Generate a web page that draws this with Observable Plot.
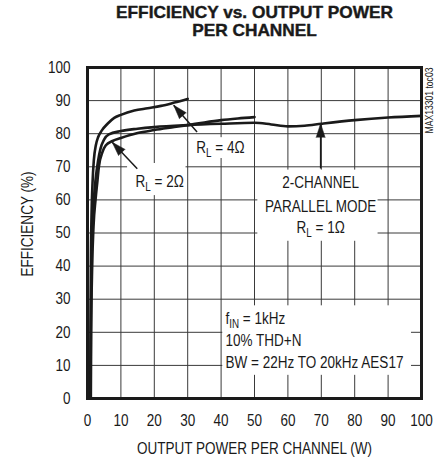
<!DOCTYPE html>
<html>
<head>
<meta charset="utf-8">
<script src="https://cdn.jsdelivr.net/npm/d3@7"></script>
<script src="https://cdn.jsdelivr.net/npm/@observablehq/plot@0.6"></script>
<style>
  html, body { margin: 0; padding: 0; background: #fff; }
  #chart svg { display: block; }
</style>
</head>
<body>
<div id="chart"></div>
<script>
// ---- data ----
const xTicks = [0, 10, 20, 30, 40, 50, 60, 70, 80, 90, 100];
const yTicks = [0, 10, 20, 30, 40, 50, 60, 70, 80, 90, 100];

// R_L = 4 ohm
const power4 = [0.8, 0.9, 1.0, 1.2, 1.5, 1.9, 2.5, 3.2, 4.3, 6, 8, 10, 14, 18, 22, 26, 30];
const eff4   = [0, 20, 40, 55, 65, 72, 76.5, 79, 81, 83, 84.8, 85.7, 87, 87.7, 88.4, 89.4, 90.5];

// R_L = 1 ohm, 2-channel parallel mode
const power1 = [0.9, 1.0, 1.2, 1.5, 1.9, 2.4, 3.2, 3.9, 5, 6.4, 10, 15, 20, 30, 40, 50, 55, 60, 65, 70, 80, 90, 100];
const eff1   = [0, 20, 40, 52, 60, 66, 72, 75.5, 78.3, 79.8, 80.8, 81.5, 82, 82.6, 83, 83.3, 82.8, 82.2, 82.4, 83, 84.1, 84.9, 85.4];

// R_L = 2 ohm
const power2 = [1.0, 1.1, 1.4, 1.8, 2.4, 3.0, 3.4, 4.5, 5.5, 7.5, 10, 15, 20, 26, 30, 35, 40, 45, 50];
const eff2   = [0, 20, 40, 52, 60, 66, 70, 74.5, 76.5, 77.8, 78.7, 80.2, 81.1, 82, 82.6, 83.4, 84.1, 84.6, 85];

// annotations (data units)
const noteText   = ["R_L = 4Ω", "R_L = 2Ω", "2-CHANNEL", "PARALLEL MODE", "R_L = 1Ω", "f_IN = 1kHz", "10% THD+N", "BW = 22Hz TO 20kHz AES17"];
const noteX      = [39.8, 21.6, 69.8, 69.8, 69.8, 41.3, 41.3, 41.3];
const noteY      = [75.8, 65.4, 65.3, 58.0, 51.7, 24.2, 17.5, 10.9];
const noteAnchor = ["middle", "middle", "middle", "middle", "middle", "start", "start", "start"];

// white label boxes (data units)
const boxX1 = [31, 12, 51, 40.5];
const boxX2 = [49.5, 29.5, 87, 97];
const boxY1 = [72.5, 61.3, 47.5, 7];
const boxY2 = [78.8, 71, 69, 28];

// arrows: tail (x1,y1) -> tip (x2,y2)
const arrowX1 = [32.8, 14.9, 69.8];
const arrowY1 = [80.5, 69.4, 69.5];
const arrowX2 = [25.8, 7.4, 69.8];
const arrowY2 = [88.6, 77.4, 83.1];

const titleLine1 = "EFFICIENCY vs. OUTPUT POWER";
const titleLine2 = "PER CHANNEL";
const xLabel = "OUTPUT POWER PER CHANNEL (W)";
const yLabel = "EFFICIENCY (%)";
const sideText = "MAX13301 toc03";

// ---- build tables ----
const series = [
  ...power4.map((p, i) => ({ series: "4", power: p, eff: eff4[i] })),
  ...power1.map((p, i) => ({ series: "1", power: p, eff: eff1[i] })),
  ...power2.map((p, i) => ({ series: "2", power: p, eff: eff2[i] }))
];
const notes = noteText.map((t, i) => ({ t, x: noteX[i], y: noteY[i], a: noteAnchor[i] }));
const boxes = boxX1.map((x1, i) => ({ x1, x2: boxX2[i], y1: boxY1[i], y2: boxY2[i] }));

const W = 440, H = 462;
const mL = 87, mR = 19, mT = 67, mB = 64;
const xs = Plot.scale({ x: { domain: [0, 100], range: [mL, W - mR] } });
const ys = Plot.scale({ y: { domain: [0, 100], range: [H - mB, mT] } });
const arrows = arrowX1.map((x1, i) => {
  const dx = xs.apply(arrowX2[i]) - xs.apply(x1);
  const dy = ys.apply(arrowY2[i]) - ys.apply(arrowY1[i]);
  return { x1, y1: arrowY1[i], x2: arrowX2[i], y2: arrowY2[i], rot: Math.atan2(dx, -dy) * 180 / Math.PI };
});

const ink = "#1a1a1a";
const font = "'Liberation Sans', Arial, sans-serif";
const fs = 16.5;

const chart = Plot.plot({
  width: W, height: H,
  marginLeft: mL, marginRight: mR, marginTop: mT, marginBottom: mB,
  style: { fontFamily: font, color: ink, background: "#fff" },
  x: { domain: [0, 100], ticks: xTicks },
  y: { domain: [0, 100], ticks: yTicks },
  marks: [
    Plot.gridX(xTicks, { stroke: "#3a3a3a", strokeOpacity: 1, strokeWidth: 1 }),
    Plot.gridY(yTicks, { stroke: "#3a3a3a", strokeOpacity: 1, strokeWidth: 1 }),
    Plot.rect(boxes, { x1: "x1", x2: "x2", y1: "y1", y2: "y2", fill: "white" }),
    Plot.line(series, { x: "power", y: "eff", z: "series", stroke: ink, strokeWidth: 2.6, curve: "monotone-x" }),
    Plot.link(arrows, { x1: "x1", y1: "y1", x2: "x2", y2: "y2", stroke: ink, strokeWidth: 1.5 }),
    Plot.vector(arrows, { x: "x2", y: "y2", rotate: "rot", length: 14, r: 4.5, shape: "spike", anchor: "end", fill: ink, stroke: ink, strokeWidth: 0.5 }),
    Plot.text(notes.filter((d) => d.a === "middle"), { x: "x", y: "y", text: "t", textAnchor: "middle", fontSize: fs, fill: ink, lineAnchor: "middle" }),
    Plot.text(notes.filter((d) => d.a === "start"), { x: "x", y: "y", text: "t", textAnchor: "start", fontSize: fs, fill: ink, lineAnchor: "middle" }),
    Plot.axisX(xTicks, { tickSize: 0, tickPadding: 16, fontSize: fs, label: null, fill: ink }),
    Plot.axisY(yTicks, { tickSize: 0, tickPadding: 17, fontSize: fs, label: null, fill: ink }),
    Plot.text([xLabel], { frameAnchor: "bottom", dy: 50, fontSize: fs, textAnchor: "middle", lineAnchor: "middle", fill: ink }),
    Plot.text([yLabel], { frameAnchor: "left", dx: -60, dy: -9, rotate: -90, fontSize: fs, textAnchor: "middle", lineAnchor: "middle", fill: ink }),
    Plot.text([titleLine1], { frameAnchor: "top", dy: -49.5, textAnchor: "middle", lineAnchor: "bottom", fontSize: 16, fontWeight: "bold", fill: ink, stroke: ink, strokeWidth: 0.4, className: "title" }),
    Plot.text([titleLine2], { frameAnchor: "top", dy: -32, textAnchor: "middle", lineAnchor: "bottom", fontSize: 16, fontWeight: "bold", fill: ink, stroke: ink, strokeWidth: 0.4, className: "title" }),
    Plot.text([sideText], { frameAnchor: "top-right", dx: 8, rotate: -90, textAnchor: "end", lineAnchor: "middle", fontSize: 10.5, fill: ink }),
    Plot.frame({ stroke: ink, strokeWidth: 3 })
  ]
});

// subscripts: "R_L" -> R with subscript L, "f_IN" -> f with subscript IN
const ns = "http://www.w3.org/2000/svg";
chart.querySelectorAll("text").forEach((el) => {
  const target = el.querySelector("tspan") || el;
  const s = target.textContent;
  const m = s.match(/^(.*?)_(\S+?)( .*)$/);
  if (!m) return;
  target.textContent = "";
  const a = document.createElementNS(ns, "tspan"); a.textContent = m[1];
  const b = document.createElementNS(ns, "tspan"); b.textContent = m[2];
  b.setAttribute("font-size", "12px"); b.setAttribute("dy", "4");
  const c = document.createElementNS(ns, "tspan"); c.textContent = m[3];
  c.setAttribute("dy", "-4");
  target.append(a, b, c);
});

// narrow (condensed) lettering like the reference: scale each text along its own baseline about its anchor
chart.querySelectorAll("text").forEach((el) => {
  const k = el.closest(".title") ? 1.08 : 0.82;
  const t = el.getAttribute("transform") || "";
  const x0 = parseFloat(el.getAttribute("x") || "0") || 0;
  el.setAttribute("transform", `${t} translate(${x0},0) scale(${k},1) translate(${-x0},0)`.trim());
});

document.getElementById("chart").append(chart);
</script>
</body>
</html>
